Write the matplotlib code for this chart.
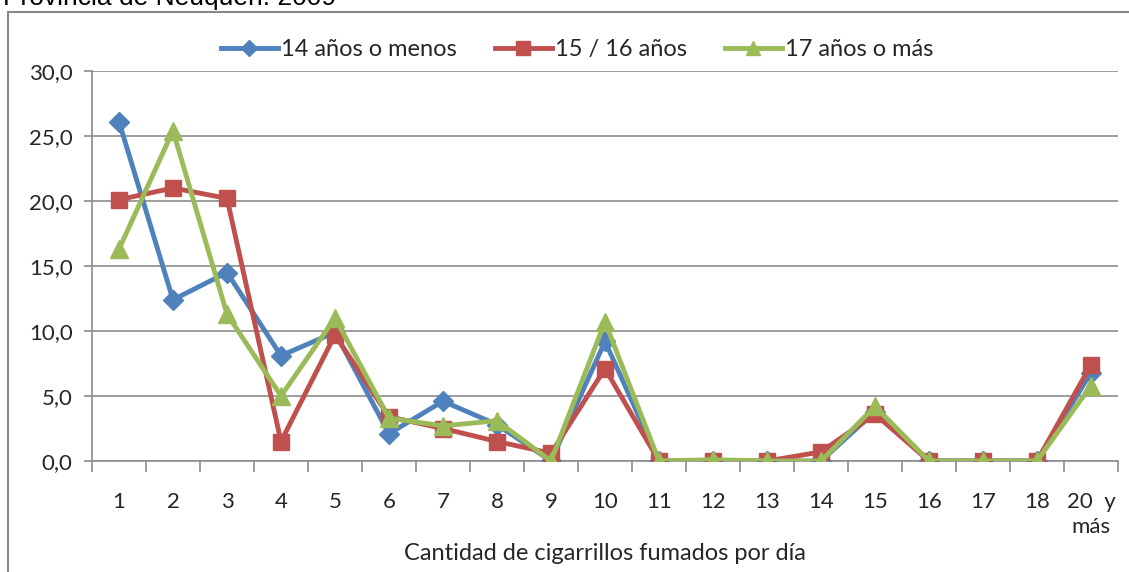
import matplotlib
matplotlib.use("Agg")
import matplotlib.pyplot as plt
from matplotlib.patches import Rectangle
from matplotlib.ticker import FuncFormatter, FixedLocator
import numpy as np

categories = ["1", "2", "3", "4", "5", "6", "7", "8", "9", "10", "11", "12",
              "13", "14", "15", "16", "17", "18", "20  y\nmás"]
s14 = [26.1, 12.4, 14.5, 8.1, 9.9, 2.1, 4.6, 2.8, 0.0, 9.2, 0.0, 0.0, 0.0, 0.0, 3.8, 0.0, 0.0, 0.0, 6.8]
s15 = [20.1, 21.0, 20.2, 1.5, 9.7, 3.4, 2.5, 1.5, 0.6, 7.1, 0.0, 0.0, 0.0, 0.7, 3.6, 0.0, 0.0, 0.0, 7.4]
s17 = [16.3, 25.4, 11.3, 5.0, 11.0, 3.3, 2.7, 3.1, 0.0, 10.7, 0.0, 0.1, 0.0, 0.0, 4.2, 0.0, 0.0, 0.0, 5.8]
series_names = ["14 años o menos", "15 / 16 años", "17 años o más"]
title = "Provincia de Neuquén. 2009"
xlabel = "Cantidad de cigarrillos fumados por día"

font = ["Lato", "DejaVu Sans"]
plt.rcParams['font.family'] = font
txtc = "#262626"

fig = plt.figure(figsize=(11.29, 5.72), dpi=100)
W, H = 1129, 572
ax = fig.add_axes([92 / W, 1 - 461 / H, (1118 - 92) / W, (461 - 71) / H])

x = np.arange(len(categories))
ax.plot(x, s14, color="#4F81BD", lw=3.5, marker="D", ms=10, label=series_names[0], zorder=3)
ax.plot(x, s15, color="#C0504D", lw=3.5, marker="s", ms=12, label=series_names[1], zorder=4)
ax.plot(x, s17, color="#9BBB59", lw=3.5, marker="^", ms=13, label=series_names[2], zorder=5)

ax.set_xlim(-0.5, len(categories) - 0.5)
ax.set_ylim(0, 30)
ax.set_yticks(np.arange(0, 31, 5))
ax.yaxis.set_major_formatter(FuncFormatter(lambda v, p: f"{v:.1f}".replace(".", ",")))
ax.grid(axis="y", color="#8c8c8c", lw=1.2)
ax.set_axisbelow(True)

ax.set_xticks(x)
ax.set_xticklabels(categories, fontsize=16, color=txtc)
ax.xaxis.set_minor_locator(FixedLocator(np.arange(-0.5, len(categories), 1)))
ax.tick_params(axis="x", which="major", length=0, pad=22)
ax.tick_params(axis="x", which="minor", length=8, color="#8c8c8c", width=1.2)
ax.tick_params(axis="y", length=6, color="#8c8c8c", width=1.2, labelsize=16, labelcolor=txtc, pad=8)
for lab in ax.get_xticklabels():
    lab.set_linespacing(1.35)
for s in ["top", "right"]:
    ax.spines[s].set_visible(False)
for s in ["left", "bottom"]:
    ax.spines[s].set_color("#8c8c8c")
    ax.spines[s].set_linewidth(1.2)

ax.set_xlabel(xlabel, fontsize=17, labelpad=4, color=txtc)

leg = ax.legend(loc="center", bbox_to_anchor=(0.473, 1.054), ncol=3, frameon=False,
                fontsize=17, handlelength=2.4, columnspacing=1.6, handletextpad=0.15,
                markerscale=0.8, borderaxespad=0)
for t in leg.get_texts():
    t.set_color(txtc)

fig.patches.append(Rectangle((8 / W, -0.05), 1.2, 1 - 12 / H + 0.05, transform=fig.transFigure,
                             fill=False, edgecolor="#888888", lw=1.5))
fig.text(3 / W, 1 - 5 / H, title, fontsize=19, family=["Liberation Sans"], va="baseline", ha="left")

fig.savefig("out.png", dpi=100)
